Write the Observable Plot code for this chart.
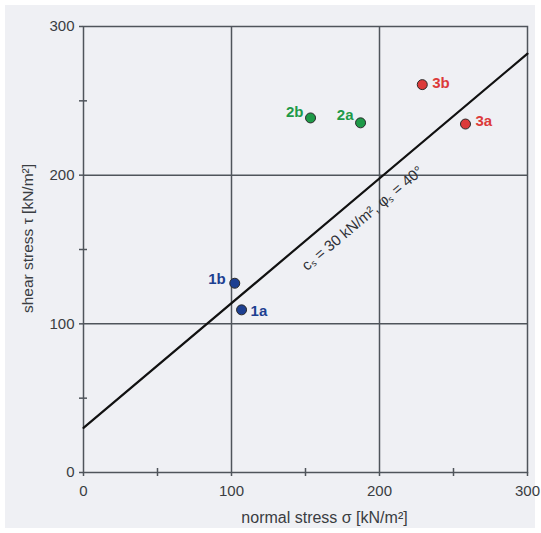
<!DOCTYPE html>
<html>
<head>
<meta charset="utf-8">
<script src="https://cdn.jsdelivr.net/npm/d3@7"></script>
<script src="https://cdn.jsdelivr.net/npm/@observablehq/plot@0.6"></script>
<style>
  html, body { margin: 0; padding: 0; background: #ffffff; }
  #wrap { position: relative; width: 541px; height: 533px; overflow: hidden; }
  #bg { position: absolute; left: 5px; top: 5px; width: 530px; height: 523px; background: #eff0f4; }
  #chart { position: absolute; left: 0; top: 0; }
</style>
</head>
<body>
<div id="wrap"><div id="bg"></div><div id="chart"></div></div>
<script>
// ---- data ----
const samples = ["1a", "1b", "2a", "2b", "3a", "3b"];
const normalStress = [106.8, 102.2, 187.2, 153.4, 258.1, 228.9];
const shearStress = [109.4, 127.3, 235.2, 238.5, 234.4, 260.9];
const sampleSeries = ["1", "1", "2", "2", "3", "3"];
const seriesNames = ["1", "2", "3"];
const cohesion = 30;        // kN/m²
const frictionAngle = 40;   // degrees
const lineSigma = [0, 300];
const majorTicks = [0, 100, 200, 300];
const gridValues = [100, 200];
const minorTicks = [50, 150, 250];
const xLabel = "normal stress σ [kN/m²]";
const yLabel = "shear stress τ [kN/m²]";
const envelopeLabel = "cₛ = 30 kN/m², φₛ = 40°";

// ---- styles ----
const seriesColors = ["#1d3f91", "#1e9a48", "#dc3a3a"];
const gridColor = "#4f545b";
const labelOffsets = {
  "1a": {dx: 9, dy: 1, anchor: "start"},
  "1b": {dx: -9, dy: -4, anchor: "end"},
  "2a": {dx: -7, dy: -8, anchor: "end"},
  "2b": {dx: -7, dy: -6, anchor: "end"},
  "3a": {dx: 10, dy: -3, anchor: "start"},
  "3b": {dx: 10, dy: -1, anchor: "start"}
};

const tanPhi = Math.tan(frictionAngle * Math.PI / 180);
const rows = samples.map((s, i) => ({sample: s, sigma: normalStress[i], tau: shearStress[i], series: sampleSeries[i]}));
const envelope = lineSigma.map(s => ({sigma: s, tau: cohesion + s * tanPhi}));
const annotationAnchor = [{sigma: 180, tau: cohesion + 180 * tanPhi}];

const labelMarks = rows.map(r => {
  const o = labelOffsets[r.sample];
  return Plot.text([r], {
    x: "sigma", y: "tau", text: "sample", fill: "series",
    dx: o.dx, dy: o.dy, textAnchor: o.anchor,
    fontWeight: "bold", fontSize: 15
  });
});

const chart = Plot.plot({
  width: 541,
  height: 533,
  marginLeft: 83,
  marginRight: 14,
  marginTop: 26,
  marginBottom: 61,
  x: {domain: [0, 300]},
  y: {domain: [0, 300]},
  color: {domain: seriesNames, range: seriesColors},
  style: {
    fontFamily: "'Liberation Sans', Arial, sans-serif",
    fontSize: "15px",
    color: "#3a3d42",
    background: "transparent",
    overflow: "visible"
  },
  marks: [
    Plot.gridX(gridValues, {stroke: gridColor, strokeOpacity: 1, strokeWidth: 1.5}),
    Plot.gridY(gridValues, {stroke: gridColor, strokeOpacity: 1, strokeWidth: 1.5}),
    Plot.frame({stroke: gridColor, strokeWidth: 1.5}),
    Plot.axisX(majorTicks, {tickSize: 4, tickPadding: 9, stroke: gridColor, strokeWidth: 1.5, fontSize: 15, label: null}),
    Plot.axisY(majorTicks, {tickSize: 4, tickPadding: 5, stroke: gridColor, strokeWidth: 1.5, fontSize: 15, label: null}),
    Plot.ruleX(minorTicks, {y1: -2.7, y2: 2.7, stroke: gridColor, strokeWidth: 1.5}),
    Plot.ruleY(minorTicks, {x1: -2.7, x2: 2.7, stroke: gridColor, strokeWidth: 1.5}),
    Plot.line(envelope, {x: "sigma", y: "tau", stroke: "#111111", strokeWidth: 2.2}),
    Plot.text(annotationAnchor, {
      x: "sigma", y: "tau", text: () => envelopeLabel,
      rotate: -40, dx: 12.6, dy: 15, textAnchor: "middle", lineAnchor: "middle",
      fill: "#2f3237", fontSize: 15
    }),
    Plot.dot(rows, {x: "sigma", y: "tau", fill: "series", stroke: "#2a2a2a", strokeWidth: 1, r: 5}),
    ...labelMarks,
    Plot.text([xLabel], {frameAnchor: "bottom", text: d => d, dx: 19, dy: 45, textAnchor: "middle", lineAnchor: "middle", fill: "#3a3d42", fontSize: 16}),
    Plot.text([yLabel], {frameAnchor: "left", text: d => d, rotate: -90, dx: -55, dy: -11, textAnchor: "middle", lineAnchor: "middle", fill: "#3a3d42", fontSize: 15.5})
  ]
});
document.getElementById("chart").appendChild(chart);
</script>
</body>
</html>
